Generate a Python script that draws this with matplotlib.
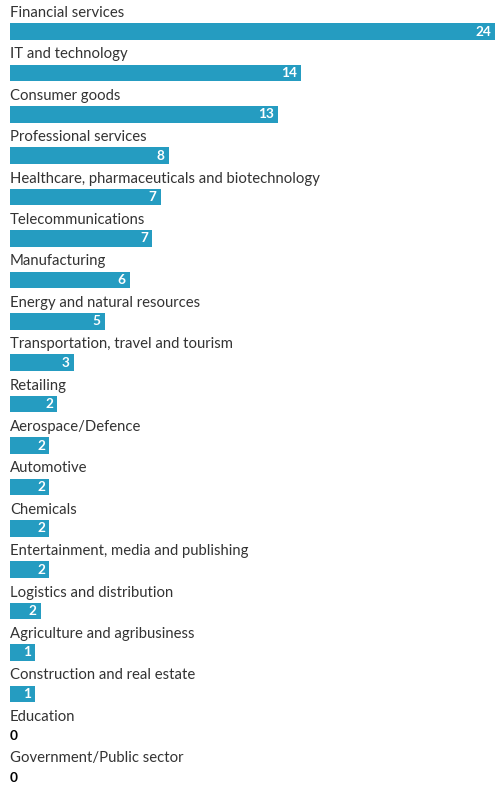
import matplotlib
matplotlib.use("Agg")
from matplotlib import pyplot as plt

# Sector shares (percent); labels are the printed rounded values
sectors = [
    "Financial services",
    "IT and technology",
    "Consumer goods",
    "Professional services",
    "Healthcare, pharmaceuticals and biotechnology",
    "Telecommunications",
    "Manufacturing",
    "Energy and natural resources",
    "Transportation, travel and tourism",
    "Retailing",
    "Aerospace/Defence",
    "Automotive",
    "Chemicals",
    "Entertainment, media and publishing",
    "Logistics and distribution",
    "Agriculture and agribusiness",
    "Construction and real estate",
    "Education",
    "Government/Public sector",
]
shares = [23.5, 14.1, 13.0, 7.7, 7.3, 6.9, 5.8, 4.6, 3.1, 2.3,
          1.9, 1.9, 1.9, 1.9, 1.5, 1.2, 1.2, 0.0, 0.0]
shown = ["24", "14", "13", "8", "7", "7", "6", "5", "3", "2",
         "2", "2", "2", "2", "2", "1", "1", "0", "0"]

bar_color = "#259cc1"
text_color = "#333333"
font = ["Lato", "DejaVu Sans"]

W, H = 495, 786
pitch = 41.4      # px per row
first_c = 31.5    # px, centre of first bar

fig = plt.figure(figsize=(W / 100, H / 100), dpi=100)
ax = fig.add_axes([10 / W, 0, 485 / W, 1])

rows = list(range(len(sectors)))
ax.barh(rows, shares, height=16.5 / pitch, color=bar_color, align="center")

for i, (name, v, lab) in enumerate(zip(sectors, shares, shown)):
    ax.text(0, i - 18.5 / pitch, name, ha="left", va="center",
            fontsize=10.7, color=text_color, family=font)
    if v > 0:
        ax.annotate(lab, (v, i), xytext=(-3, 0), textcoords="offset points",
                    ha="right", va="center", fontsize=9.8, fontweight="bold",
                    color="white", family=font)
    else:
        ax.text(0, i + 1 / pitch, lab, ha="left", va="center",
                fontsize=9.8, fontweight="bold", color="black", family=font)

ax.set_xlim(0, 23.5)
ax.set_ylim((H - first_c) / pitch, -first_c / pitch)
ax.axis("off")

fig.savefig("out.png", dpi=100)
